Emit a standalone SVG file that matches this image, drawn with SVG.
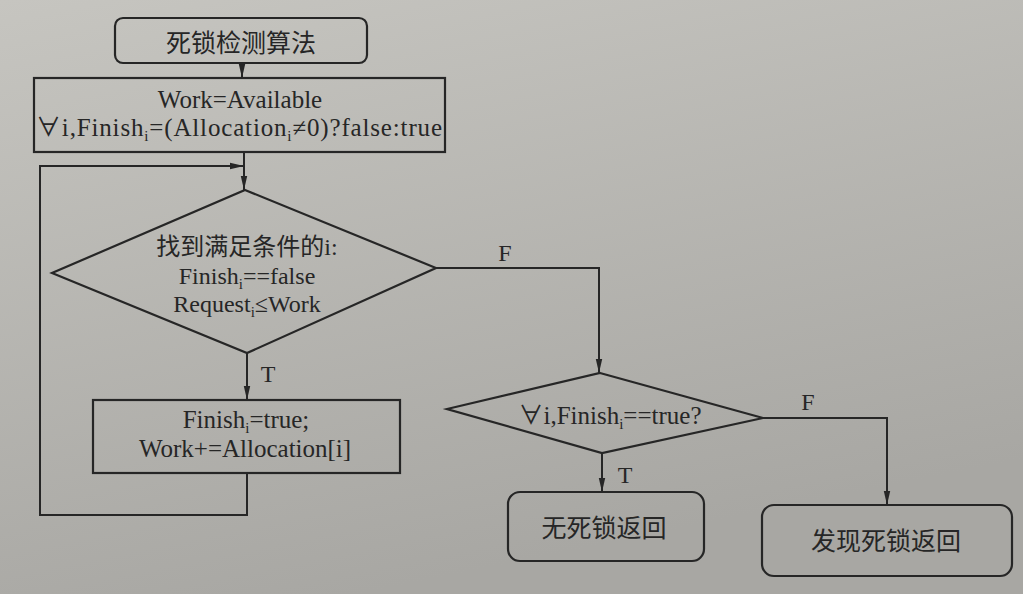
<svg xmlns="http://www.w3.org/2000/svg" width="1023" height="594" viewBox="0 0 1023 594">
<defs>
<linearGradient id="bg" x1="0" y1="0" x2="0.35" y2="1">
<stop offset="0" stop-color="#c6c5c0"/>
<stop offset="1" stop-color="#a8a7a3"/>
</linearGradient>
<marker id="arr" markerWidth="14" markerHeight="8" refX="14" refY="4" orient="auto" markerUnits="userSpaceOnUse">
<path d="M0,0.8 L14,4 L0,7.2 z" fill="#262626"/>
</marker>
<style>
.shape{fill:none;stroke:#262626;stroke-width:2.2}
.line{fill:none;stroke:#262626;stroke-width:2}
text{font-family:"Liberation Serif","Noto Sans CJK SC",serif;fill:#262626;text-anchor:middle;font-size:25px}
.cjk{font-family:"Noto Sans CJK SC","Liberation Serif",sans-serif}
.sub{font-size:15px}
.dt{font-size:24px}
.lbl{font-size:24px}
</style>
</defs>
<rect x="0" y="0" width="1023" height="594" fill="url(#bg)"/>

<g id="start">
<rect class="shape" x="115" y="18" width="252" height="45" rx="8"/>
<text class="cjk" x="241" y="52" font-size="26">死锁检测算法</text>
</g>

<g id="init">
<rect class="shape" x="34" y="78" width="411" height="74"/>
<text x="240" y="108">Work=Available</text>
<text x="239" y="136" textLength="406">∀i,Finish<tspan class="sub" dy="5">i</tspan><tspan dy="-5">=(Allocation</tspan><tspan class="sub" dy="5">i</tspan><tspan dy="-5">≠0)?false:true</tspan></text>
</g>

<g id="find">
<polygon class="shape" points="245,190 436,268 247,353 52,273"/>
<text class="dt" x="247" y="255"><tspan class="cjk">找到满足条件的</tspan>i:</text>
<text class="dt" x="247" y="284">Finish<tspan class="sub" dy="5">i</tspan><tspan dy="-5">==false</tspan></text>
<text class="dt" x="247" y="311.5">Request<tspan class="sub" dy="5">i</tspan><tspan dy="-5">≤Work</tspan></text>
</g>

<g id="update">
<rect class="shape" x="93" y="400" width="307" height="73"/>
<text x="246" y="428">Finish<tspan class="sub" dy="5">i</tspan><tspan dy="-5">=true;</tspan></text>
<text x="245" y="457">Work+=Allocation[i]</text>
</g>

<g id="check">
<polygon class="shape" points="600,373 763,418 602,453 447,409"/>
<text x="610" y="424">∀i,Finish<tspan class="sub" dy="5">i</tspan><tspan dy="-5">==true?</tspan></text>
</g>

<g id="nodeadlock">
<rect class="shape" x="508" y="492" width="196" height="69" rx="12"/>
<text class="cjk" x="604" y="537" font-size="27">无死锁返回</text>
</g>

<g id="deadlock">
<rect class="shape" x="762" y="505" width="250" height="71" rx="12"/>
<text class="cjk" x="886" y="550" font-size="29">发现死锁返回</text>
</g>

<g id="connectors">
<path class="line" d="M242,63 V78" marker-end="url(#arr)"/>
<path class="line" d="M244,152 V190" marker-end="url(#arr)"/>
<path class="line" d="M247,473 V515 H40 V166 H244" marker-end="url(#arr)"/>
<path class="line" d="M247,353 V400" marker-end="url(#arr)"/>
<path class="line" d="M436,268 H599 V373" marker-end="url(#arr)"/>
<path class="line" d="M602,453 V492" marker-end="url(#arr)"/>
<path class="line" d="M763,418 H887 V505" marker-end="url(#arr)"/>
<text class="lbl" x="505" y="261">F</text>
<text class="lbl" x="268" y="382">T</text>
<text class="lbl" x="625" y="483">T</text>
<text class="lbl" x="808" y="410">F</text>
</g>
</svg>
